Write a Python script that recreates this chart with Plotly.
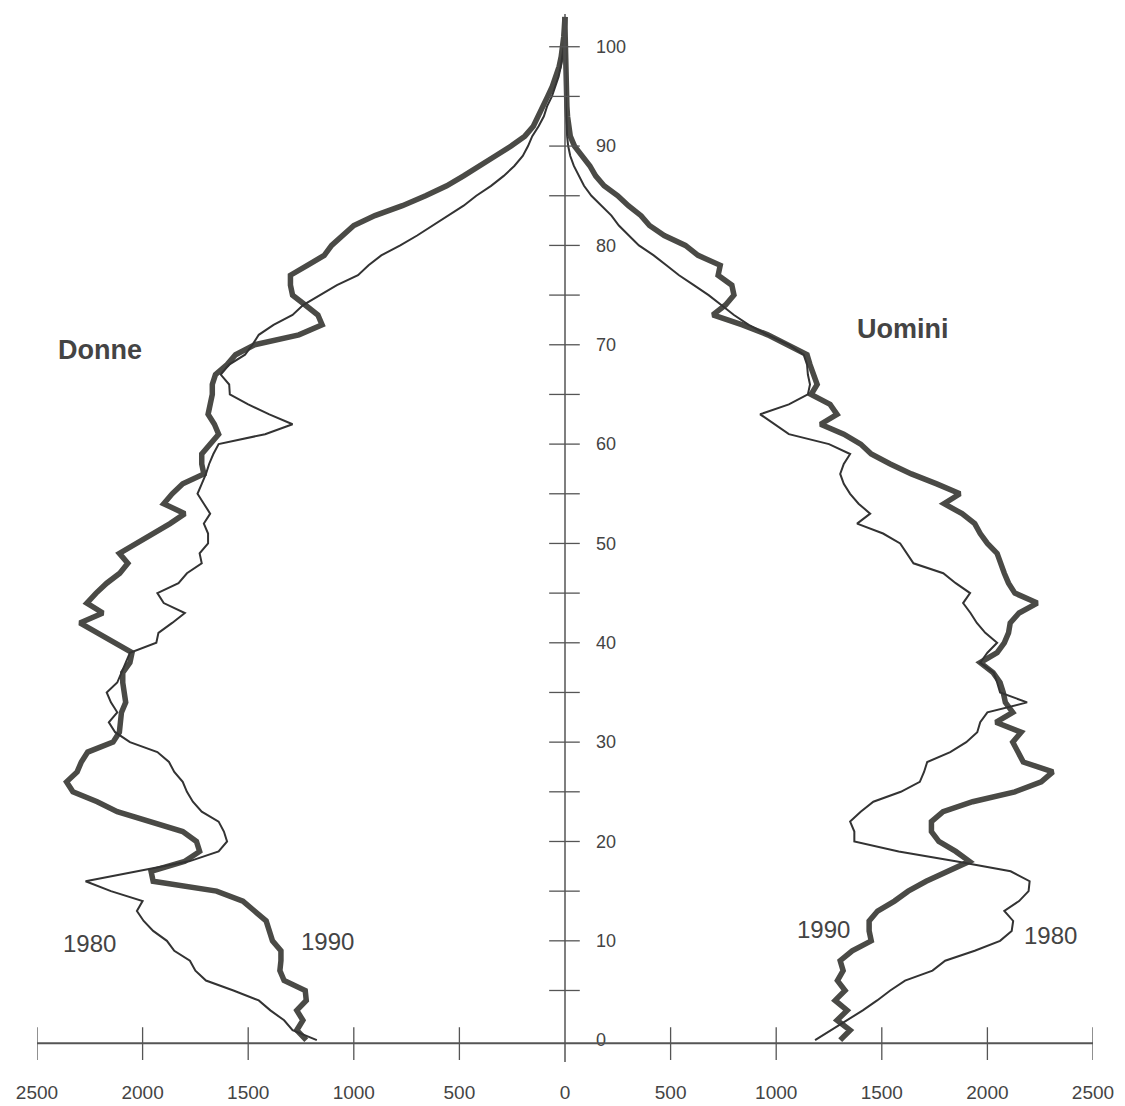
import plotly.graph_objects as go

# Age (years)
ages = list(range(0, 104))

# Women (Donne), thousands, 1980 and 1990
donne_1980 = [1175, 1290, 1330, 1395, 1450, 1570, 1700, 1750, 1776, 1850,
              1885, 1950, 1995, 2027, 2000, 2150, 2270, 2030, 1780, 1640,
              1600, 1615, 1640, 1720, 1762, 1790, 1810, 1850, 1875, 1930,
              2060, 2130, 2160, 2120, 2150, 2170, 2120, 2100, 2080, 2060,
              1935, 1925, 1860, 1800, 1900, 1930, 1830, 1790, 1720, 1730,
              1690, 1690, 1710, 1680, 1710, 1740, 1720, 1700, 1685, 1665,
              1640, 1420, 1290, 1400, 1500, 1587, 1590, 1630, 1590, 1515,
              1480, 1450, 1380, 1290, 1240, 1160, 1080, 980, 930, 870,
              780, 700, 625, 550, 480, 420, 350, 290, 240, 200,
              175, 155, 125, 100, 85, 62, 45, 30, 20, 12,
              6, 3, 1, 0]
donne_1990 = [1225, 1270, 1241, 1270, 1225, 1230, 1330, 1350, 1345, 1345,
              1385, 1400, 1415, 1470, 1525, 1650, 1950, 1960, 1800, 1730,
              1745, 1810, 1960, 2120, 2215, 2330, 2360, 2310, 2290, 2260,
              2140, 2110, 2105, 2100, 2080, 2090, 2094, 2094, 2060, 2050,
              2130, 2210, 2297, 2188, 2264, 2220, 2170, 2108, 2070, 2110,
              2030, 1940, 1870, 1800, 1900, 1860, 1810, 1710, 1720, 1720,
              1680, 1640, 1660, 1690, 1680, 1670, 1670, 1655, 1600, 1560,
              1470, 1260, 1150, 1170, 1230, 1290, 1300, 1300, 1220, 1140,
              1105, 1050, 1000, 900, 770, 660, 560, 480, 410, 330,
              255, 190, 150, 125, 105, 82, 60, 42, 28, 18,
              10, 6, 3, 0]

# Men (Uomini), thousands, 1980 and 1990
uomini_1980 = [1184, 1260, 1336, 1410, 1478, 1540, 1610, 1740, 1800, 1940,
               2060, 2115, 2122, 2080, 2150, 2195, 2200, 2110, 1850, 1580,
               1370, 1370, 1350, 1400, 1460, 1590, 1680, 1700, 1715, 1824,
               1900, 1952, 1966, 2000, 2188, 2060, 2046, 2030, 1966, 2000,
               2046, 1990, 1950, 1920, 1885, 1918, 1850, 1791, 1650, 1620,
               1587, 1506, 1383, 1445, 1390, 1350, 1320, 1303, 1320, 1350,
               1250, 1060, 990, 924, 1060, 1150, 1160, 1150, 1146, 1130,
               1060, 960, 870, 800, 740, 680, 610, 540, 480, 420,
               350, 300, 255, 220, 170, 125, 90, 65, 42, 25,
               15, 10, 7, 5, 4, 3, 2, 2, 1, 1,
               0, 0, 0, 0]
uomini_1990 = [1303, 1350, 1288, 1336, 1279, 1326, 1290, 1317, 1303, 1360,
               1450, 1440, 1440, 1480, 1560, 1625, 1710, 1820, 1915, 1850,
               1770, 1735, 1735, 1790, 1930, 2130, 2255, 2310, 2170, 2145,
               2120, 2160, 2040, 2120, 2085, 2075, 2060, 2027, 1966, 2046,
               2080, 2100, 2108, 2150, 2236, 2130, 2100, 2080, 2060, 2046,
               2000, 1966, 1940, 1880, 1795, 1870, 1760, 1640, 1540, 1450,
               1400, 1320, 1210, 1288, 1255, 1165, 1194, 1175, 1160, 1146,
               1050, 960, 840, 700, 760, 800, 790, 725, 735, 630,
               570, 470, 400, 360, 300, 250, 185, 145, 118, 80,
               45, 25, 16, 12, 9, 7, 5, 4, 3, 2,
               1, 1, 0, 0]

x_tick_values = [-2500, -2000, -1500, -1000, -500, 0, 500, 1000, 1500, 2000, 2500]
x_tick_labels = ["2500", "2000", "1500", "1000", "500", "0", "500", "1000", "1500", "2000", "2500"]
y_label_values = [0, 10, 20, 30, 40, 50, 60, 70, 80, 90, 100]
y_tick_marks = [5, 10, 15, 20, 25, 30, 35, 40, 45, 50, 55, 60, 65, 70, 75, 80, 85, 90, 95, 100]

THICK = "#4a4a46"
THIN = "#333333"
AXIS = "#555555"
TEXT = "#444444"
FONT = "Liberation Sans, Arial, sans-serif"

fig = go.Figure()
fig.add_trace(go.Scatter(x=[-v for v in donne_1990], y=ages, mode="lines",
                         line=dict(color=THICK, width=5.5), name="Donne 1990"))
fig.add_trace(go.Scatter(x=[-v for v in donne_1980], y=ages, mode="lines",
                         line=dict(color=THIN, width=2), name="Donne 1980"))
fig.add_trace(go.Scatter(x=uomini_1990, y=ages, mode="lines",
                         line=dict(color=THICK, width=5.5), name="Uomini 1990"))
fig.add_trace(go.Scatter(x=uomini_1980, y=ages, mode="lines",
                         line=dict(color=THIN, width=2), name="Uomini 1980"))

shapes = []
# horizontal axis line
shapes.append(dict(type="line", xref="x", yref="y", x0=-2500, x1=2500, y0=-0.3, y1=-0.3,
                   line=dict(color=AXIS, width=2)))
# vertical axis line
shapes.append(dict(type="line", xref="x", yref="y", x0=0, x1=0, y0=-2.2, y1=103.3,
                   line=dict(color=AXIS, width=1.5)))
for v in x_tick_values:
    if v == 0:
        continue
    shapes.append(dict(type="line", xref="x", yref="y", x0=v, x1=v, y0=-2.0, y1=1.3,
                       line=dict(color=AXIS, width=1.3)))
for a in y_tick_marks:
    shapes.append(dict(type="line", xref="x", yref="y", x0=-75, x1=70, y0=a, y1=a,
                       line=dict(color=AXIS, width=1.3)))

annotations = [
    dict(x=-2203, y=69.5, text="<b>Donne</b>", showarrow=False,
         font=dict(size=27, color=TEXT, family=FONT)),
    dict(x=1601, y=71.6, text="<b>Uomini</b>", showarrow=False,
         font=dict(size=27, color=TEXT, family=FONT)),
    dict(x=-2250, y=9.7, text="1980", showarrow=False,
         font=dict(size=24, color=TEXT, family=FONT)),
    dict(x=-1123, y=9.9, text="1990", showarrow=False,
         font=dict(size=24, color=TEXT, family=FONT)),
    dict(x=1222, y=11.1, text="1990", showarrow=False,
         font=dict(size=24, color=TEXT, family=FONT)),
    dict(x=2297, y=10.5, text="1980", showarrow=False,
         font=dict(size=24, color=TEXT, family=FONT)),
]

fig.update_layout(
    width=1125, height=1106,
    margin=dict(l=37, r=32, t=7, b=41, autoexpand=False),
    paper_bgcolor="white", plot_bgcolor="white",
    showlegend=False,
    shapes=shapes,
    annotations=annotations,
    font=dict(family=FONT, color=TEXT),
    xaxis=dict(range=[-2500, 2500], showgrid=False, zeroline=False, showline=False,
               tickmode="array", tickvals=x_tick_values, ticktext=x_tick_labels,
               ticks="", tickfont=dict(size=19, color=TEXT, family=FONT),
               ticklabelstandoff=14, automargin=False, fixedrange=True),
    yaxis=dict(range=[-2.5, 104], showgrid=False, zeroline=False, showline=False,
               anchor="free", position=0.5, side="right",
               tickmode="array", tickvals=y_label_values,
               ticks="", tickfont=dict(size=18, color=TEXT, family=FONT),
               ticklabelstandoff=30, automargin=False, fixedrange=True),
)

fig.write_html("out.html")
